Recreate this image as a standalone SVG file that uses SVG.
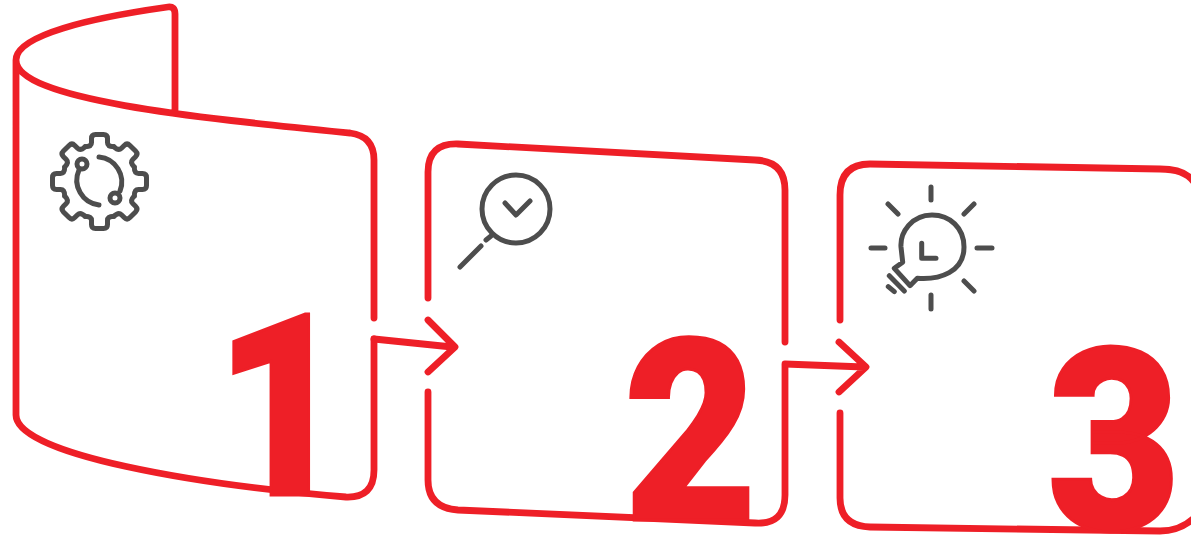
<svg xmlns="http://www.w3.org/2000/svg" width="1191" height="535" viewBox="0 0 1191 535">
<style>
.r{fill:none;stroke:#ee1f27;stroke-width:6.800;stroke-linecap:round;stroke-linejoin:round}
.g{fill:none;stroke:#4d4d4d;stroke-width:5;stroke-linecap:round;stroke-linejoin:round}
.n{font-family:Roboto,"Liberation Sans",sans-serif;font-weight:900;font-size:255px;fill:#ee1f27;stroke:#ee1f27;stroke-width:3}
</style>
<defs>
<path id="t" d="M-14.400-34.800Q-8-34.800-8-39V-43Q-8-47-4-47H4Q8-47 8-43V-39Q8-34.800 14.400-34.800" class="g"/>
</defs>
<rect width="1191" height="535" fill="#fff"/>
<g id="node-1">
<path class="r" d="M16 60V415C16 455 200 485 346 497Q374 498 374 470V339M374 318V160Q374 136 350 133C200 118 16 100 16 60C16 35 90 18 168 7Q175 6 175 14V112"/>
<text class="n" transform="translate(215 495) scale(.9 1)">1</text>
<g transform="translate(99.500 181.500)"><use href="#t"/><use href="#t" transform="rotate(45)"/><use href="#t" transform="rotate(90)"/><use href="#t" transform="rotate(135)"/><use href="#t" transform="rotate(180)"/><use href="#t" transform="rotate(225)"/><use href="#t" transform="rotate(270)"/><use href="#t" transform="rotate(315)"/></g>
<circle class="g" cx="82" cy="164" r="5"/><circle class="g" cx="115" cy="198" r="5"/>
<path class="g" d="M99 157A25 25 0 0 1 120 191M79 170A25 25 0 0 0 99 205"/>
</g>
<g id="node-2">
<path class="r" d="M428 298V172Q428 143 458 144L755 160Q785 161 785 190V342M785 366V495Q785 525 755 523L458 510Q428 508 428 480V392"/>
<text class="n" transform="translate(624 520) scale(.9 1)">2</text>
<circle class="g" cx="516" cy="209" r="34"/>
<path class="g" d="M486 240L491 236M460 267L481 246M505 203L516 215L530 201"/>
</g>
<g id="node-3">
<path class="r" d="M840 320V195Q840 164 870 164L1160 169Q1185 169 1194 182M840 413V498Q840 526 870 527L1160 531Q1180 531 1194 518"/>
<text class="n" transform="translate(1047.500 530) scale(.9 1)">3</text>
<path class="g" d="M931 187V200M931 295V309M871 248H885M977 248H992M888 204L898 214M974 204L964 214M964 281L974 291M902.700 262.300L894.300 268.300L910 285.700L917.300 278.300C940 280 964 272 964 247C964 228 950 215 932 215C912 215 900 232 901 247Z"/>
<path class="g" d="M889.300 275.700L904.300 291M888.300 286.700L894.300 291.700M921.700 243.300V258.300H936"/>
</g>
<g id="connectors">
<path class="r" d="M374 339L452 347M428 320L455 347L428 372"/>
<path class="r" d="M785 364L864 367M839 342L866 367L839 392"/>
</g>
</svg>
